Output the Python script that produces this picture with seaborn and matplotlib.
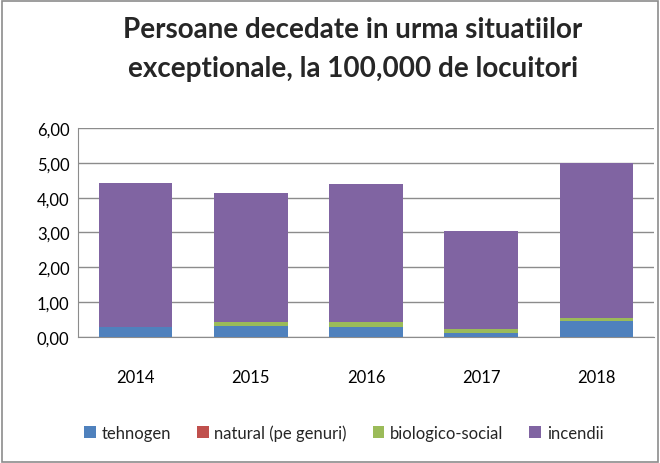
import matplotlib
matplotlib.use("Agg")
import matplotlib.pyplot as plt
from matplotlib.patches import Rectangle, Patch
from matplotlib.ticker import FuncFormatter
import seaborn as sns
import pandas as pd
import numpy as np

years = ["2014", "2015", "2016", "2017", "2018"]
tehnogen = [0.30, 0.32, 0.30, 0.11, 0.45]
natural = [0.00, 0.00, 0.00, 0.00, 0.00]
biologico_social = [0.00, 0.11, 0.13, 0.13, 0.10]
incendii = [4.13, 3.71, 3.96, 2.81, 4.45]

series_names = ["tehnogen", "natural (pe genuri)", "biologico-social", "incendii"]
series_values = [tehnogen, natural, biologico_social, incendii]
colors = ["#4F81BD", "#C0504D", "#9BBB59", "#8064A2"]

sns.set_style("white")
plt.rcParams["font.family"] = ["Lato", "DejaVu Sans"]

fig = plt.figure(figsize=(6.6, 4.64), dpi=100)
ax = fig.add_axes([0.118, 0.2716, 0.873, 0.4504])

bottom = np.zeros(len(years))
for name, vals, col in zip(series_names, series_values, colors):
    df = pd.DataFrame({"year": years, "value": vals})
    sns.barplot(data=df, x="year", y="value", color=col, bottom=bottom.copy(),
                width=0.64, ax=ax, saturation=1, zorder=3, linewidth=0)
    bottom += np.array(vals)

ax.set_ylim(0, 6)
ax.set_yticks(np.arange(0, 6.01, 1))
ax.yaxis.set_major_formatter(FuncFormatter(lambda v, p: f"{v:.2f}".replace(".", ",")))
ax.grid(axis="y", color="#8C8C8C", linewidth=1, zorder=0)
ax.set_xlabel("")
ax.set_ylabel("")
for s in ["top", "right"]:
    ax.spines[s].set_visible(False)
ax.spines["left"].set_color("#8C8C8C")
ax.spines["bottom"].set_color("#8C8C8C")
ax.tick_params(axis="both", length=0, labelsize=12, colors="black")
ax.tick_params(axis="x", pad=23)
ax.tick_params(axis="y", pad=6)

fig.text(0.535, 0.894, "Persoane decedate in urma situatiilor\nexceptionale, la 100,000 de locuitori",
         ha="center", va="center", fontsize=20, fontweight="bold", linespacing=1.62)

handles = [Patch(facecolor=c, edgecolor="none") for c in colors]
fig.legend(handles, series_names, loc="center", bbox_to_anchor=(0.521, 0.065), ncol=4,
           frameon=False, fontsize=12, handlelength=0.7, handleheight=0.7,
           columnspacing=1.55, handletextpad=0.35)

fig.patches.append(Rectangle((0.003, 0.002), 0.994, 0.993, transform=fig.transFigure,
                             fill=False, edgecolor="#8C8C8C", linewidth=1.2))

fig.savefig("out.png", dpi=100)
